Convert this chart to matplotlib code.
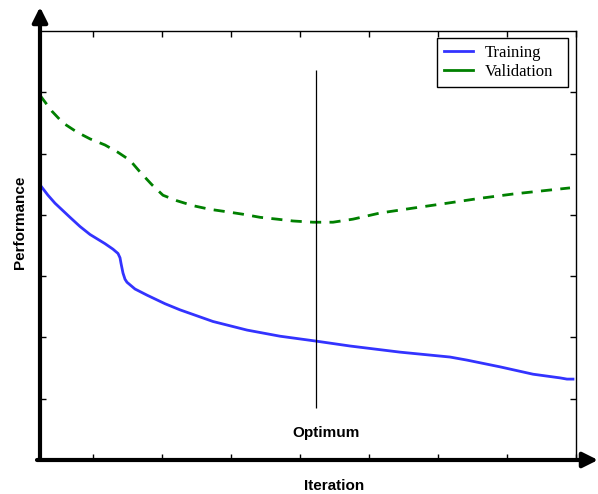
import matplotlib
matplotlib.use("Agg")
from matplotlib import pyplot as plt
from matplotlib.lines import Line2D

# iteration axis runs 0..536, performance axis 0..7
train_x = [0, 8, 15, 30, 40, 50, 65, 73, 78, 80, 81, 83, 85, 87, 95, 107, 125, 140, 173,
           207, 240, 276, 310, 360, 410, 427, 460, 493, 520, 527, 533]
train_y = [4.49, 4.32, 4.19, 3.96, 3.81, 3.68, 3.53, 3.44, 3.37, 3.30, 3.21, 3.05, 2.95,
           2.90, 2.79, 2.69, 2.55, 2.45, 2.26, 2.12, 2.02, 1.94, 1.86, 1.76, 1.68, 1.63,
           1.52, 1.40, 1.34, 1.32, 1.32]

val_x = [0, 12, 23, 37, 50, 65, 78, 90, 100, 112, 123, 137, 153, 170, 187, 203, 220,
         237, 253, 273, 293, 313, 340, 373, 407, 440, 473, 507, 530]
val_y = [5.95, 5.69, 5.50, 5.35, 5.24, 5.14, 5.02, 4.89, 4.70, 4.49, 4.32, 4.23, 4.15,
         4.09, 4.05, 4.01, 3.96, 3.93, 3.90, 3.88, 3.88, 3.93, 4.03, 4.11, 4.19, 4.27,
         4.34, 4.40, 4.44]

optimum_x = 276
optimum_span = (0.85, 6.36)

x_ticks = [53, 122, 191, 260, 329, 398, 467, 536]
y_ticks = [1, 2, 3, 4, 5, 6]

blue = '#3333ff'
green = '#008000'

fig = plt.figure(figsize=(5.98, 4.94), dpi=100)
ax = fig.add_axes([40 / 598, 34 / 494, 536 / 598, 429 / 494])

ax.plot(train_x, train_y, color=blue, lw=2)
ax.plot(val_x, val_y, color=green, lw=2, linestyle=(0, (4, 3)))
ax.vlines(optimum_x, *optimum_span, color='black', lw=0.9)
ax.text(optimum_x + 10, 0.44, 'Optimum', ha='center', va='center', fontsize=11,
        fontweight='bold', family='Liberation Sans')

ax.set_xlim(0, 536)
ax.set_ylim(0, 7)
ax.set_xticks(x_ticks)
ax.set_yticks(y_ticks)
ax.tick_params(direction='in', length=4, width=1, top=True, right=True,
               labelleft=False, labelbottom=False)

for side in ['left', 'bottom']:
    ax.spines[side].set_visible(False)
for side in ['top', 'right']:
    ax.spines[side].set_linewidth(1)

# axis arrows
ax.annotate('', xy=(0, 1 + 24 / 429), xytext=(0, 0), xycoords='axes fraction',
            arrowprops=dict(arrowstyle='-|>,head_length=0.9,head_width=0.45', lw=3,
                            color='black', shrinkA=0, shrinkB=0), annotation_clip=False)
ax.annotate('', xy=(1 + 22 / 536, 0), xytext=(-3 / 536, 0), xycoords='axes fraction',
            arrowprops=dict(arrowstyle='-|>,head_length=0.9,head_width=0.45', lw=3,
                            color='black', shrinkA=0, shrinkB=0), annotation_clip=False)

fig.text(20 / 598, 1 - 222 / 494, 'Performance', rotation=90, ha='center', va='center',
         fontsize=11, fontweight='bold', family='Liberation Sans')
fig.text(334 / 598, 1 - 486 / 494, 'Iteration', ha='center', va='center',
         fontsize=11, fontweight='bold', family='Liberation Sans')

handles = [Line2D([], [], color=blue, lw=2), Line2D([], [], color=green, lw=2)]
leg = ax.legend(handles, ['Training', 'Validation'], loc='upper left', mode='expand',
                bbox_to_anchor=(397 / 536, 1 - 7 / 429 - 0.1, 131 / 536, 0.1),
                fancybox=False, framealpha=1, edgecolor='black',
                prop={'family': 'Liberation Serif', 'size': 12},
                borderpad=0.4, labelspacing=0.2, handlelength=1.75, handletextpad=0.7,
                borderaxespad=0)
leg.get_frame().set_linewidth(1)

fig.savefig('out.png', dpi=100)
plt.close()
